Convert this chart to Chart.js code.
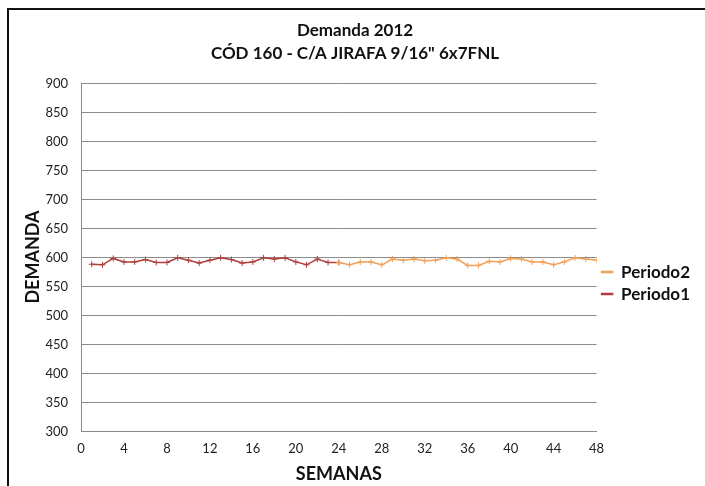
<!DOCTYPE html>
<html>
<head>
<meta charset="utf-8">
<script src="https://cdn.jsdelivr.net/npm/chart.js@4"></script>
<style>
  html, body { margin: 0; padding: 0; overflow: hidden; background: #fff; }
  #frame { position: absolute; left: 7px; top: 8px; width: 740px; height: 520px; border: 2px solid #111; }
  #wrap { position: absolute; left: 0; top: 0; width: 705px; height: 486px; }
</style>
</head>
<body>
<div id="frame"></div>
<div id="wrap"><canvas id="chart" width="705" height="486"></canvas></div>
<script>
// weeks and demand values
const weeks1 = [1, 2, 3, 4, 5, 6, 7, 8, 9, 10, 11, 12, 13, 14, 15, 16, 17, 18, 19, 20, 21, 22, 23, 24];
const periodo1 = [589, 588, 599, 593, 593, 597, 592, 592, 600, 596, 591, 596, 600, 597, 591, 593, 600, 598, 600, 593, 588, 598, 592, 592];
const weeks2 = [24, 25, 26, 27, 28, 29, 30, 31, 32, 33, 34, 35, 36, 37, 38, 39, 40, 41, 42, 43, 44, 45, 46, 47, 48];
const periodo2 = [592, 588, 593, 593, 588, 598, 596, 598, 595, 596, 600, 598, 587, 587, 594, 593, 599, 598, 593, 593, 588, 593, 600, 598, 596];

const titleLines = ["Demanda 2012", "CÓD 160 - C/A JIRAFA 9/16\" 6x7FNL"];

function toPoints(xs, ys) {
    return xs.map((x, i) => ({ x: x, y: ys[i] }));
}

// rotated y title, placed where Excel put it
const yTitlePlugin = {
    id: "yTitle",
    afterDraw(chart) {
        const ctx = chart.ctx;
        ctx.save();
        ctx.translate(33, 257);
        ctx.rotate(-Math.PI / 2);
        ctx.font = "bold 18px Lato";
        ctx.fillStyle = "#111";
        ctx.textAlign = "center";
        ctx.textBaseline = "middle";
        ctx.fillText("DEMANDA", 0, 0);
        ctx.restore();
    }
};

new Chart(document.getElementById("chart"), {
    type: "scatter",
    data: {
        datasets: [{
            label: "Periodo2",
            data: toPoints(weeks2, periodo2),
            showLine: true,
            borderColor: "#F2A057",
            backgroundColor: "#F2A057",
            borderWidth: 1.5,
            pointStyle: "cross",
            pointRadius: 3,
            pointBorderWidth: 1,
            tension: 0
        }, {
            label: "Periodo1",
            data: toPoints(weeks1, periodo1),
            showLine: true,
            borderColor: "#AE3F3B",
            backgroundColor: "#AE3F3B",
            borderWidth: 1.5,
            pointStyle: "cross",
            pointRadius: 3,
            pointBorderWidth: 1,
            tension: 0
        }]
    },
    options: {
        responsive: false,
        animation: false,
        layout: { padding: { left: 10, right: 5, top: 10, bottom: -3 } },
        plugins: {
            title: {
                display: true,
                text: titleLines,
                color: "#111",
                font: { family: "Lato", size: 17, weight: "bold", lineHeight: 1.35 },
                padding: { top: 9.5, bottom: 18.5 }
            },
            legend: {
                position: "right",
                align: "start",
                title: { display: true, text: " ", font: { size: 13 }, padding: { top: 0, bottom: 233 } },
                labels: {
                    color: "#111",
                    font: { family: "Lato", size: 17, weight: "bold" },
                    boxWidth: 11,
                    boxHeight: 1,
                    padding: 5
                }
            },
            tooltip: { enabled: false }
        },
        scales: {
            x: {
                type: "linear",
                min: 0,
                max: 48,
                ticks: { stepSize: 4, color: "#222", font: { family: "Lato", size: 13 }, padding: 9 },
                grid: { display: false, drawTicks: false },
                border: { color: "#888" },
                title: { display: true, text: "SEMANAS", color: "#111", font: { family: "Lato", size: 18, weight: "bold" }, padding: { top: -2 } }
            },
            y: {
                min: 300,
                max: 900,
                afterFit(scale) { scale.width = 71; },
                ticks: { stepSize: 50, color: "#222", font: { family: "Lato", size: 13 }, padding: 13 },
                grid: { color: "#8c8c8c", drawTicks: false },
                border: { color: "#888" }
            }
        }
    },
    plugins: [yTitlePlugin]
});
</script>
</body>
</html>
